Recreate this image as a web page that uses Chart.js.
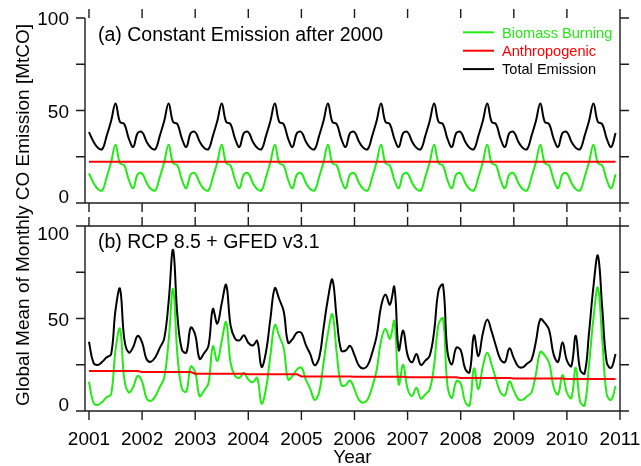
<!DOCTYPE html>
<html>
<head>
<meta charset="utf-8">
<title>Global mean monthly CO emission</title>
<script src="https://cdn.jsdelivr.net/npm/chart.js@4.4.0/dist/chart.umd.min.js"></script>
<style>
  body { margin: 0; background: #fff; }
  #wrap { position: relative; width: 641px; height: 466px; }
  #wrap canvas { position: absolute; left: 0; top: 0; }
</style>
</head>
<body>
<div id="wrap">
  <canvas id="panelA" width="641" height="466"></canvas>
  <canvas id="panelB" width="641" height="466"></canvas>
</div>
<script>
// monthly samples, January 2001 .. December 2010
var years = [2001, 2002, 2003, 2004, 2005, 2006, 2007, 2008, 2009, 2010];
var yearTicks = [2001, 2002, 2003, 2004, 2005, 2006, 2007, 2008, 2009, 2010, 2011];
var valueTicks = [0, 25, 50, 75, 100];
var valueLabels = [0, 50, 100];
var seriesNames = ['Biomass Burning', 'Anthropogenic', 'Total Emission'];

// (a) emissions held at their 2000 levels: same seasonal cycle every year [MtCO]
var biomassA = [
  16.0, 11.0, 7.6, 6.8, 14.0, 22.0, 31.5, 21.5, 20.3, 12.5, 8.0, 15.5,
  16.0, 11.0, 7.6, 6.8, 14.0, 22.0, 31.5, 21.5, 20.3, 12.5, 8.0, 15.5,
  16.0, 11.0, 7.6, 6.8, 14.0, 22.0, 31.5, 21.5, 20.3, 12.5, 8.0, 15.5,
  16.0, 11.0, 7.6, 6.8, 14.0, 22.0, 31.5, 21.5, 20.3, 12.5, 8.0, 15.5,
  16.0, 11.0, 7.6, 6.8, 14.0, 22.0, 31.5, 21.5, 20.3, 12.5, 8.0, 15.5,
  16.0, 11.0, 7.6, 6.8, 14.0, 22.0, 31.5, 21.5, 20.3, 12.5, 8.0, 15.5,
  16.0, 11.0, 7.6, 6.8, 14.0, 22.0, 31.5, 21.5, 20.3, 12.5, 8.0, 15.5,
  16.0, 11.0, 7.6, 6.8, 14.0, 22.0, 31.5, 21.5, 20.3, 12.5, 8.0, 15.5,
  16.0, 11.0, 7.6, 6.8, 14.0, 22.0, 31.5, 21.5, 20.3, 12.5, 8.0, 15.5,
  16.0, 11.0, 7.6, 6.8, 14.0, 22.0, 31.5, 21.5, 20.3, 12.5, 8.0, 15.5
];
// annual anthropogenic totals, one value per year
var anthroA = [22.3, 22.3, 22.3, 22.3, 22.3, 22.3, 22.3, 22.3, 22.3, 22.3];

// (b) RCP 8.5 anthropogenic + GFED v3.1 fires
var biomassB = [
  15.8, 4.5, 3.3, 5.0, 7.4, 9.0, 33.0, 44.5, 17.0, 10.0, 13.0, 19.0,
  16.0, 7.0, 5.5, 8.0, 13.0, 18.0, 38.0, 66.0, 30.0, 12.0, 10.5, 24.0,
  21.0, 8.0, 11.0, 15.0, 35.0, 27.0, 38.0, 48.0, 26.0, 19.0, 18.0, 20.7,
  17.0, 15.5, 18.0, 4.0, 12.0, 30.0, 46.5, 40.5, 34.0, 17.0, 19.0, 22.5,
  23.5, 17.0, 12.0, 6.0, 10.0, 26.0, 42.0, 52.3, 31.0, 14.0, 14.0, 16.5,
  11.7, 6.0, 4.5, 6.3, 13.0, 22.0, 38.0, 44.5, 39.0, 48.6, 14.4, 25.0,
  12.0, 8.1, 12.6, 6.7, 9.0, 11.7, 25.0, 47.0, 50.0, 14.0, 7.0, 16.0,
  15.0, 5.0, 3.0, 23.0, 11.7, 24.0, 31.5, 25.0, 17.0, 10.0, 8.5, 16.0,
  11.0, 6.5, 6.0, 8.0, 10.0, 20.0, 32.0, 30.0, 26.0, 13.0, 9.0, 19.5,
  10.0, 7.0, 23.4, 5.0, 3.0, 25.0, 50.0, 66.7, 38.0, 9.0, 6.0, 13.5
];
var anthroB = [21.6, 21.1, 20.2, 19.9, 18.7, 18.5, 18.2, 17.9, 17.6, 17.3];

var FONT = '"Liberation Sans", Arial, Helvetica, sans-serif';
var GREEN = 'rgb(34, 235, 20)';
var RED = 'rgb(255, 0, 0)';

// month index -> decimal year (Jan 2001 = 2001.0)
function monthTime(i) {
  return years[Math.floor(i / 12)] + (i % 12) / 12;
}
function toPoints(vals) {
  return vals.map(function (v, i) { return { x: monthTime(i), y: v }; });
}
// the annual value holds for every month of its year
function yearlyToMonthly(vals) {
  var out = [];
  vals.forEach(function (v) { for (var m = 0; m < 12; m++) out.push(v); });
  return out;
}

var panelFrame = {
  id: 'panelFrame',
  beforeDatasetsDraw: function (chart, args, o) {
    var ctx = chart.ctx, a = chart.chartArea;
    ctx.save();
    ctx.fillStyle = '#000';
    ctx.font = '19.5px ' + FONT;
    ctx.textAlign = 'left';
    ctx.textBaseline = 'alphabetic';
    ctx.fillText(o.title, 98, a.top + o.titleDy);
    ctx.restore();
  },
  afterDraw: function (chart, args, o) {
    var ctx = chart.ctx, a = chart.chartArea;
    var xs = chart.scales.x, ys = chart.scales.y;
    ctx.save();
    ctx.strokeStyle = '#1c1c1c';
    ctx.lineWidth = 1.4;
    ctx.beginPath();
    ctx.moveTo(a.left, a.top);
    ctx.lineTo(a.left, a.bottom);
    ctx.lineTo(a.right, a.bottom);
    ctx.lineTo(a.right, a.top);
    if (o.closedTop) ctx.lineTo(a.left, a.top);
    valueTicks.forEach(function (v) {
      var y = ys.getPixelForValue(v);
      ctx.moveTo(a.left - 9, y); ctx.lineTo(a.left, y);
      ctx.moveTo(a.right, y); ctx.lineTo(a.right + 9, y);
    });
    yearTicks.forEach(function (t) {
      var x = xs.getPixelForValue(t);
      ctx.moveTo(x, a.top - 9); ctx.lineTo(x, a.top);
      ctx.moveTo(x, a.bottom); ctx.lineTo(x, a.bottom + 9);
    });
    ctx.stroke();

    ctx.fillStyle = '#000';
    ctx.font = '19px ' + FONT;
    ctx.textBaseline = 'alphabetic';
    ctx.textAlign = 'right';
    valueLabels.forEach(function (v) {
      var y = ys.getPixelForValue(v) + 7;
      if (v === 0) y = a.bottom;
      if (v === 100 && o.closedTop) y = a.top + 14;
      ctx.fillText(String(v), a.left - 16, y);
    });

    if (o.yearLabels) {
      ctx.textAlign = 'center';
      yearTicks.forEach(function (t) {
        ctx.fillText(String(t), xs.getPixelForValue(t), a.bottom + 34);
      });
      ctx.fillText('Year', (a.left + a.right) / 2, a.bottom + 52);
    }

    if (o.yTitle) {
      ctx.save();
      ctx.translate(28.5, 215);
      ctx.rotate(-Math.PI / 2);
      ctx.textAlign = 'center';
      ctx.fillText(o.yTitle, 0, 0);
      ctx.restore();
    }

    if (o.legend) {
      var colors = [GREEN, RED, '#000'];
      ctx.font = '14.6px ' + FONT;
      ctx.textAlign = 'left';
      ctx.lineWidth = 2;
      seriesNames.forEach(function (name, i) {
        var y = 32.3 + i * 18.4;
        ctx.strokeStyle = colors[i];
        ctx.beginPath();
        ctx.moveTo(463, y); ctx.lineTo(494, y);
        ctx.stroke();
        ctx.fillStyle = colors[i];
        ctx.fillText(name, 502, y + 5.3);
      });
    }
    ctx.restore();
  }
};

function makePanel(id, biomass, anthroYearly, padding, frameOpts) {
  var anthro = yearlyToMonthly(anthroYearly);
  var total = biomass.map(function (v, i) { return v + anthro[i]; });
  return new Chart(document.getElementById(id).getContext('2d'), {
    type: 'line',
    data: {
      datasets: [
        { label: seriesNames[2], data: toPoints(total), borderColor: '#000', borderWidth: 2, order: 1 },
        { label: seriesNames[1], data: toPoints(anthro), borderColor: RED, borderWidth: 2, tension: 0, order: 2 },
        { label: seriesNames[0], data: toPoints(biomass), borderColor: GREEN, borderWidth: 2, order: 3 }
      ]
    },
    options: {
      responsive: false,
      animation: false,
      events: [],
      layout: { padding: padding },
      elements: { point: { radius: 0 }, line: { tension: 0.4, fill: false } },
      scales: {
        x: { type: 'linear', min: 2000.925, max: 2011, display: false },
        y: { min: 0, max: 100, display: false }
      },
      plugins: {
        legend: { display: false },
        tooltip: { enabled: false },
        panelFrame: frameOpts
      }
    },
    plugins: [panelFrame]
  });
}

makePanel('panelA', biomassA, anthroA,
  { left: 85, right: 21, top: 18, bottom: 263 },
  { title: '(a) Constant Emission after 2000', titleDy: 23, closedTop: false, legend: true });

makePanel('panelB', biomassB, anthroB,
  { left: 85, right: 21, top: 226, bottom: 55 },
  { title: '(b) RCP 8.5 + GFED v3.1', titleDy: 22, closedTop: true, yearLabels: true,
    yTitle: 'Global Mean of Monthly CO Emission [MtCO]' });
</script>
</body>
</html>
